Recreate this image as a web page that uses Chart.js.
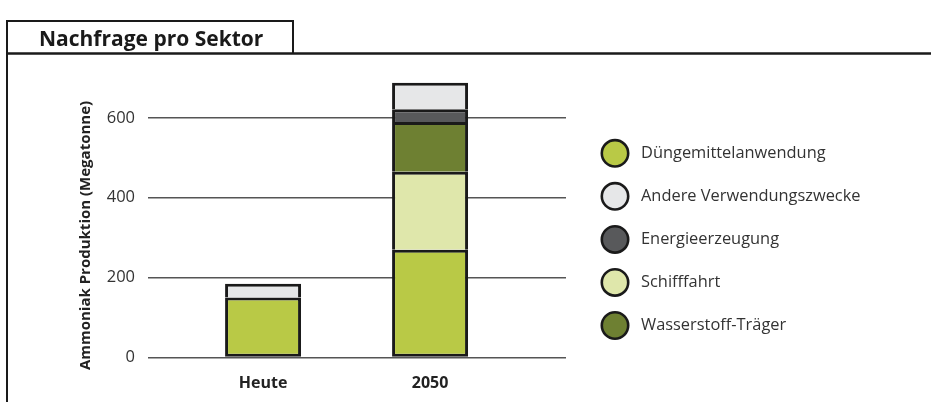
<!DOCTYPE html>
<html><head><meta charset="utf-8">
<script src="https://cdn.jsdelivr.net/npm/chart.js@4/dist/chart.umd.min.js"></script>
<style>html,body{margin:0;padding:0;background:#fff;}canvas{display:block;}</style>
</head><body>
<canvas id="c" width="931" height="402"></canvas>
<script>
// ---- data ----
const categories = ['Heute', '2050'];
const duengemittel = [150, 270];
const schifffahrt = [0, 195];
const wasserstoff = [0, 125];
const energie = [0, 32];
const andere = [35, 66];
const yTicks = [0, 200, 400, 600];
const legendOrder = ['Düngemittelanwendung', 'Andere Verwendungszwecke', 'Energieerzeugung', 'Schifffahrt', 'Wasserstoff-Träger'];
const chartTitle = 'Nachfrage pro Sektor';
const yTitle = 'Ammoniak Produktion (Megatonne)';

const FONT = "'Open Sans', 'Noto Sans', sans-serif";
const EDGE = '#1a1a1a';

function pts(arr) { return arr.map((v, i) => ({ x: i, y: v })); }

const datasets = [
  { label: 'Düngemittelanwendung', data: pts(duengemittel), backgroundColor: '#b9c946', borderSkipped: false },
  { label: 'Schifffahrt', data: pts(schifffahrt), backgroundColor: '#dfe7ab', borderSkipped: 'bottom' },
  { label: 'Wasserstoff-Träger', data: pts(wasserstoff), backgroundColor: '#6e8032', borderSkipped: 'bottom' },
  { label: 'Energieerzeugung', data: pts(energie), backgroundColor: '#58595b', borderSkipped: 'bottom' },
  { label: 'Andere Verwendungszwecke', data: pts(andere), backgroundColor: '#e6e7e8', borderSkipped: 'bottom' }
].map(d => Object.assign(d, { borderColor: EDGE, borderWidth: 3, barPercentage: 0.455, categoryPercentage: 1 }));

const framePlugin = {
  id: 'frame',
  beforeDraw(chart) {
    const ctx = chart.ctx;
    ctx.save();
    ctx.strokeStyle = EDGE;
    ctx.lineWidth = 2.5;
    ctx.beginPath();
    ctx.moveTo(6, 53.5); ctx.lineTo(931, 53.5);
    ctx.stroke();
    ctx.lineWidth = 2;
    ctx.beginPath();
    ctx.moveTo(7, 402); ctx.lineTo(7, 21); ctx.lineTo(293, 21); ctx.lineTo(293, 53);
    ctx.stroke();
    ctx.fillStyle = EDGE;
    ctx.font = "bold 21px " + FONT;
    ctx.textBaseline = 'alphabetic';
    ctx.textAlign = 'left';
    ctx.fillText(chartTitle, 39, 46);
    // y axis title
    ctx.translate(86, 235.5);
    ctx.rotate(-Math.PI / 2);
    ctx.font = "bold 15px " + FONT;
    ctx.fillStyle = '#222';
    ctx.textAlign = 'center';
    ctx.textBaseline = 'middle';
    ctx.fillText(yTitle, 0, 0);
    ctx.restore();
  },
  afterDraw(chart) {
    const ctx = chart.ctx;
    ctx.save();
    legendOrder.forEach((lab, i) => {
      const ds = chart.data.datasets.find(d => d.label === lab);
      const cy = 153.3 + i * 43.05;
      ctx.beginPath();
      ctx.arc(615, cy, 13.2, 0, Math.PI * 2);
      ctx.fillStyle = ds.backgroundColor;
      ctx.fill();
      ctx.lineWidth = 2.6;
      ctx.strokeStyle = EDGE;
      ctx.stroke();
      ctx.fillStyle = '#333';
      ctx.font = "16.4px " + FONT;
      ctx.textAlign = 'left';
      ctx.textBaseline = 'middle';
      ctx.fillText(lab, 641, cy);
    });
    ctx.restore();
  }
};

new Chart(document.getElementById('c'), {
  type: 'bar',
  data: { datasets },
  plugins: [framePlugin],
  options: {
    responsive: false,
    animation: false,
    layout: { padding: { left: 0, right: 365, top: 78, bottom: 0 } },
    plugins: { legend: { display: false }, tooltip: { enabled: false }, title: { display: false } },
    scales: {
      x: {
        type: 'linear',
        stacked: true,
        offset: false,
        min: -0.689,
        max: 1.814,
        grid: { display: false, drawTicks: false },
        border: { display: false },
        afterBuildTicks: s => { s.ticks = categories.map((_, i) => ({ value: i })); },
        afterFit: s => { s.height = 44.5; },
        ticks: {
          callback: v => categories[v],
          font: { family: FONT, size: 16, weight: 'bold' },
          color: '#222',
          padding: 16,
          maxRotation: 0,
          autoSkip: false
        }
      },
      y: {
        stacked: true,
        min: 0,
        max: 700,
        grid: { color: '#555', lineWidth: 1.5, drawTicks: false },
        border: { display: false },
        afterBuildTicks: s => { s.ticks = yTicks.map(v => ({ value: v })); },
        afterFit: s => { s.width = 148; },
        ticks: {
          font: { family: FONT, size: 16.5 },
          color: '#333',
          padding: 13
        }
      }
    }
  }
});
</script>
</body></html>
